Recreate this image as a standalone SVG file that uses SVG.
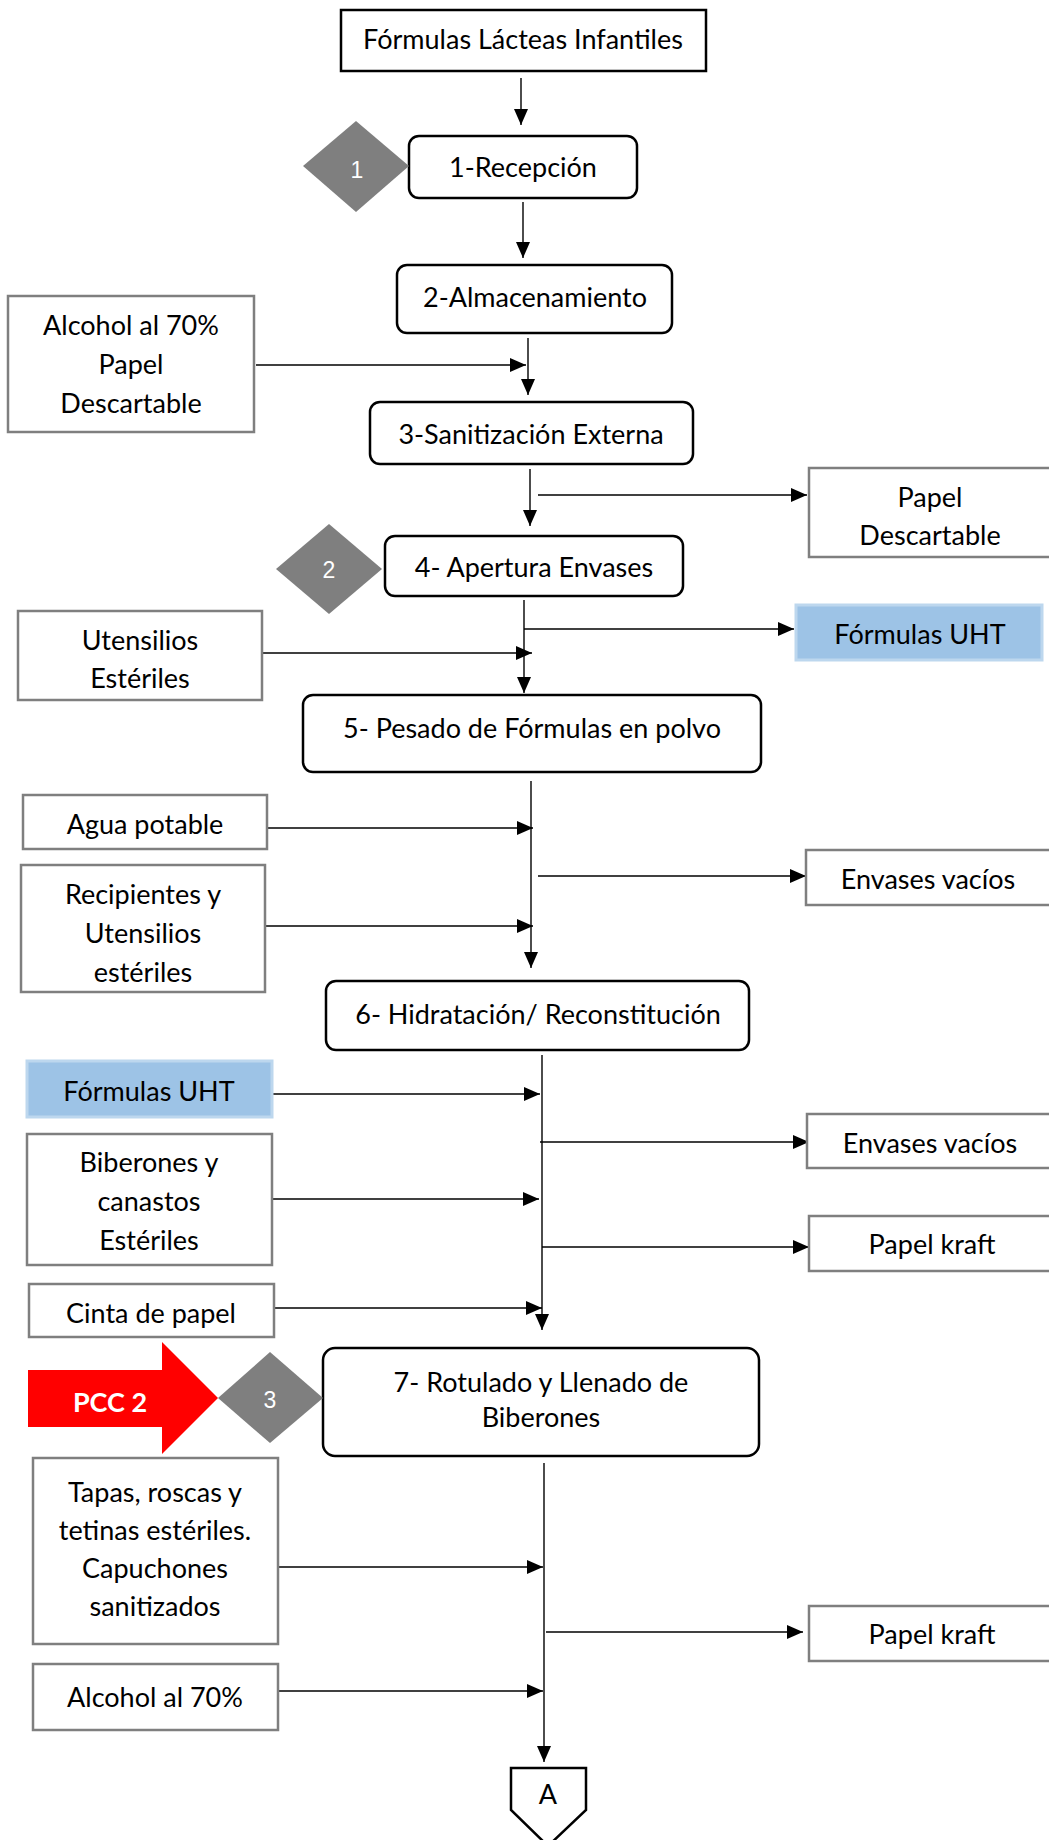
<svg xmlns="http://www.w3.org/2000/svg" width="1049" height="1840" viewBox="0 0 1049 1840">
  <style>
    .proc { fill: #ffffff; stroke: #000000; stroke-width: 2.5; }
    .inp { fill: #ffffff; stroke: #7f7f7f; stroke-width: 2.5; }
    .uht { fill: #9dc3e6; stroke: #bdd7ee; stroke-width: 3; }
    .pcp { fill: #7f7f7f; }
    .lbl { font-family: Lato, "Open Sans", sans-serif; font-size: 27px; fill: #000000; text-anchor: middle; }
    .num { font-family: "Liberation Sans", Arial, sans-serif; font-size: 23px; fill: #ffffff; text-anchor: middle; }
    .pcc { font-family: Lato, "Open Sans", sans-serif; font-size: 27px; font-weight: bold; fill: #ffffff; text-anchor: middle; }
    .con line { stroke: #000000; stroke-width: 1.4; fill: none; }
    .con line.arr { marker-end: url(#ah); }
  </style>
  <defs>
    <marker id="ah" markerUnits="userSpaceOnUse" markerWidth="16" markerHeight="14" refX="16" refY="7" orient="auto">
      <path d="M0,0 L16,7 L0,14 z" fill="#000000"/>
    </marker>
  </defs>

  <rect width="1049" height="1840" fill="#ffffff"/>

  <!-- connectors -->
  <g id="connectors" class="con">
    <line class="arr" x1="521" y1="78" x2="521" y2="125"/>
    <line class="arr" x1="523" y1="202" x2="523" y2="258"/>
    <line class="arr" x1="528" y1="338" x2="528" y2="395"/>
    <line class="arr" x1="256" y1="365" x2="526" y2="365"/>
    <line class="arr" x1="530" y1="469" x2="530" y2="526"/>
    <line class="arr" x1="538" y1="495" x2="807" y2="495"/>
    <line class="arr" x1="524" y1="600" x2="524" y2="693"/>
    <line class="arr" x1="524" y1="629" x2="794" y2="629"/>
    <line class="arr" x1="262" y1="653" x2="532" y2="653"/>
    <line class="arr" x1="531" y1="781" x2="531" y2="968"/>
    <line class="arr" x1="267" y1="828" x2="533" y2="828"/>
    <line class="arr" x1="538" y1="876" x2="806" y2="876"/>
    <line class="arr" x1="265" y1="926" x2="533" y2="926"/>
    <line class="arr" x1="542" y1="1055" x2="542" y2="1330"/>
    <line class="arr" x1="272" y1="1094" x2="540" y2="1094"/>
    <line class="arr" x1="540" y1="1142" x2="809" y2="1142"/>
    <line class="arr" x1="270" y1="1199" x2="539" y2="1199"/>
    <line class="arr" x1="542" y1="1247" x2="809" y2="1247"/>
    <line class="arr" x1="274" y1="1308" x2="542" y2="1308"/>
    <line class="arr" x1="544" y1="1463" x2="544" y2="1762"/>
    <line class="arr" x1="275" y1="1567" x2="543" y2="1567"/>
    <line class="arr" x1="546" y1="1632" x2="803" y2="1632"/>
    <line class="arr" x1="278" y1="1691" x2="543" y2="1691"/>
  </g>

  <!-- process steps -->
  <g id="start">
    <rect class="proc" x="341" y="10" width="365" height="61"/>
    <text class="lbl" x="523" y="49">Fórmulas Lácteas Infantiles</text>
  </g>
  <g id="step1">
    <rect class="proc" x="409" y="136" width="228" height="62" rx="10"/>
    <text class="lbl" x="523" y="177">1-Recepción</text>
  </g>
  <g id="step2">
    <rect class="proc" x="397" y="265" width="275" height="68" rx="10"/>
    <text class="lbl" x="535" y="307">2-Almacenamiento</text>
  </g>
  <g id="step3">
    <rect class="proc" x="370" y="402" width="323" height="62" rx="10"/>
    <text class="lbl" x="531" y="444">3-Sanitización Externa</text>
  </g>
  <g id="step4">
    <rect class="proc" x="385" y="536" width="298" height="60" rx="10"/>
    <text class="lbl" x="534" y="577">4- Apertura Envases</text>
  </g>
  <g id="step5">
    <rect class="proc" x="303" y="695" width="458" height="77" rx="10"/>
    <text class="lbl" x="532" y="738">5- Pesado de Fórmulas en polvo</text>
  </g>
  <g id="step6">
    <rect class="proc" x="326" y="981" width="423" height="69" rx="10"/>
    <text class="lbl" x="538" y="1024">6- Hidratación/ Reconstitución</text>
  </g>
  <g id="step7">
    <rect class="proc" x="323" y="1348" width="436" height="108" rx="12"/>
    <text class="lbl" x="541" y="1392">7- Rotulado y Llenado de</text>
    <text class="lbl" x="541" y="1427">Biberones</text>
  </g>

  <!-- control points -->
  <g id="cp1">
    <polygon class="pcp" points="356,121 409,166 356,212 303,166"/>
    <text class="num" x="357" y="178">1</text>
  </g>
  <g id="cp2">
    <polygon class="pcp" points="329,524 382,569 329,614 276,569"/>
    <text class="num" x="329" y="578">2</text>
  </g>
  <g id="cp3">
    <polygon class="pcp" points="270,1352 323,1398 270,1443 218,1398"/>
    <text class="num" x="270" y="1408">3</text>
  </g>
  <g id="pcc2">
    <polygon fill="#ff0000" points="28,1370 162,1370 162,1342 218,1398 162,1454 162,1427 28,1427"/>
    <text class="pcc" x="110" y="1412">PCC 2</text>
  </g>

  <!-- inputs -->
  <g id="in-alcohol-papel">
    <rect class="inp" x="8" y="296" width="246" height="136"/>
    <text class="lbl" x="131" y="335">Alcohol al 70%</text>
    <text class="lbl" x="131" y="374">Papel</text>
    <text class="lbl" x="131" y="413">Descartable</text>
  </g>
  <g id="in-utensilios">
    <rect class="inp" x="18" y="611" width="244" height="89"/>
    <text class="lbl" x="140" y="650">Utensilios</text>
    <text class="lbl" x="140" y="688">Estériles</text>
  </g>
  <g id="in-agua">
    <rect class="inp" x="23" y="795" width="244" height="54"/>
    <text class="lbl" x="145" y="834">Agua potable</text>
  </g>
  <g id="in-recipientes">
    <rect class="inp" x="21" y="865" width="244" height="127"/>
    <text class="lbl" x="143" y="904">Recipientes y</text>
    <text class="lbl" x="143" y="943">Utensilios</text>
    <text class="lbl" x="143" y="982">estériles</text>
  </g>
  <g id="in-uht">
    <rect class="uht" x="27" y="1061" width="245" height="56"/>
    <text class="lbl" x="149" y="1101">Fórmulas UHT</text>
  </g>
  <g id="in-biberones">
    <rect class="inp" x="27" y="1134" width="245" height="131"/>
    <text class="lbl" x="149" y="1172">Biberones y</text>
    <text class="lbl" x="149" y="1211">canastos</text>
    <text class="lbl" x="149" y="1250">Estériles</text>
  </g>
  <g id="in-cinta">
    <rect class="inp" x="29" y="1284" width="245" height="53"/>
    <text class="lbl" x="151" y="1323">Cinta de papel</text>
  </g>
  <g id="in-tapas">
    <rect class="inp" x="33" y="1458" width="245" height="186"/>
    <text class="lbl" x="155" y="1502">Tapas, roscas y</text>
    <text class="lbl" x="155" y="1540">tetinas estériles.</text>
    <text class="lbl" x="155" y="1578">Capuchones</text>
    <text class="lbl" x="155" y="1616">sanitizados</text>
  </g>
  <g id="in-alcohol">
    <rect class="inp" x="33" y="1664" width="245" height="66"/>
    <text class="lbl" x="155" y="1707">Alcohol al 70%</text>
  </g>

  <!-- outputs -->
  <g id="out-papel">
    <rect class="inp" x="809" y="468" width="245" height="89"/>
    <text class="lbl" x="930" y="507">Papel</text>
    <text class="lbl" x="930" y="545">Descartable</text>
  </g>
  <g id="out-uht">
    <rect class="uht" x="796" y="605" width="246" height="55"/>
    <text class="lbl" x="920" y="644">Fórmulas UHT</text>
  </g>
  <g id="out-envases1">
    <rect class="inp" x="806" y="850" width="248" height="55"/>
    <text class="lbl" x="928" y="889">Envases vacíos</text>
  </g>
  <g id="out-envases2">
    <rect class="inp" x="807" y="1114" width="247" height="54"/>
    <text class="lbl" x="930" y="1153">Envases vacíos</text>
  </g>
  <g id="out-kraft1">
    <rect class="inp" x="809" y="1216" width="245" height="55"/>
    <text class="lbl" x="932" y="1254">Papel kraft</text>
  </g>
  <g id="out-kraft2">
    <rect class="inp" x="809" y="1606" width="245" height="55"/>
    <text class="lbl" x="932" y="1644">Papel kraft</text>
  </g>

  <!-- off-page connector -->
  <g id="offpage-a">
    <polygon fill="#ffffff" stroke="#000000" stroke-width="2.5" points="511,1768 586,1768 586,1810 548,1846 511,1810"/>
    <text class="lbl" x="548" y="1804">A</text>
  </g>
</svg>
